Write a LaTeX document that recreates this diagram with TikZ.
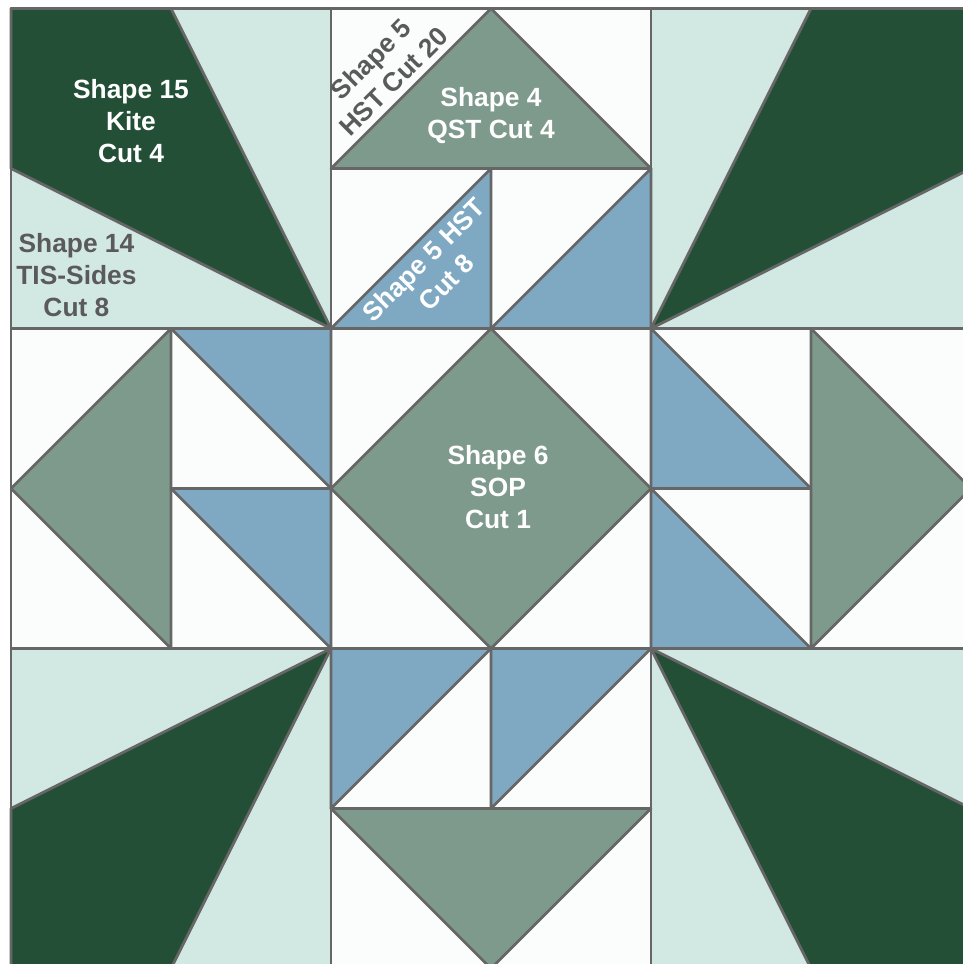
\documentclass[tikz,border=0pt]{standalone}
\usepackage{fontspec}
\setmainfont{Liberation Sans}
\definecolor{darkgrn}{HTML}{234F37}
\definecolor{lightgrn}{HTML}{D2E9E3}
\definecolor{sage}{HTML}{7E9A8C}
\definecolor{bluepc}{HTML}{7FA9C3}
\definecolor{whitepc}{HTML}{FBFDFC}
\definecolor{seam}{HTML}{666666}
\definecolor{inkgrey}{HTML}{5A5A5A}
\tikzset{
  seamline/.style ={draw=seam, line width=0.055cm, line join=round},
  bg/.style       ={seamline, fill=whitepc},
  tis/.style      ={seamline, fill=lightgrn},
  kite/.style     ={seamline, fill=darkgrn},
  qst/.style      ={seamline, fill=sage},
  hst/.style      ={seamline, fill=bluepc},
  lblw/.style     ={font=\fontsize{15}{18.2}\selectfont\bfseries, text=white, align=center, inner sep=0pt},
  lblg/.style     ={font=\fontsize{15}{18.2}\selectfont\bfseries, text=inkgrey, align=center, inner sep=0pt},
}

\begin{document}
\begin{tikzpicture}[x=3.2cm, y=-3.2cm]
  \useasboundingbox (-0.06875,-0.053125) rectangle (5.95,5.971875);
  \clip (-0.06875,-0.053125) rectangle (5.95,5.971875);
  % white background squares
  \foreach \c in {0,...,5}
    \foreach \r in {0,...,5}
      \draw[bg] (\c,\r) rectangle ++(1,1);
  % corner blocks
  \foreach \c/\r in {0/0,4/0,0/4,4/4}
    \draw[tis] (\c,\r) rectangle ++(2,2);
  \draw[kite] (0,0) -- (1,0) -- (2,2) -- (0,1) -- cycle;
  \draw[kite] (6,0) -- (5,0) -- (4,2) -- (6,1) -- cycle;
  \draw[kite] (0,6) -- (1,6) -- (2,4) -- (0,5) -- cycle;
  \draw[kite] (6,6) -- (5,6) -- (4,4) -- (6,5) -- cycle;
  % centre square and the four flying geese
  \draw[bg] (2,0) rectangle (4,1);
  \draw[bg] (2,2) rectangle (4,4);
  \draw[bg] (2,5) rectangle (4,6);
  \draw[bg] (0,2) rectangle (1,4);
  \draw[bg] (5,2) rectangle (6,4);
  \draw[qst] (3,2) -- (4,3) -- (3,4) -- (2,3) -- cycle;
  \draw[qst] (2,1) -- (3,0) -- (4,1) -- cycle;
  \draw[qst] (2,5) -- (4,5) -- (3,6) -- cycle;
  \draw[qst] (1,2) -- (0,3) -- (1,4) -- cycle;
  \draw[qst] (5,2) -- (6,3) -- (5,4) -- cycle;
  % half square triangles
  \draw[hst] (2,2) -- (3,1) -- (3,2) -- cycle;
  \draw[hst] (3,2) -- (4,1) -- (4,2) -- cycle;
  \draw[hst] (1,2) -- (2,2) -- (2,3) -- cycle;
  \draw[hst] (1,3) -- (2,3) -- (2,4) -- cycle;
  \draw[hst] (4,2) -- (4,3) -- (5,3) -- cycle;
  \draw[hst] (4,3) -- (4,4) -- (5,4) -- cycle;
  \draw[hst] (2,4) -- (3,4) -- (2,5) -- cycle;
  \draw[hst] (3,4) -- (4,4) -- (3,5) -- cycle;
  % labels
  \node[lblw] (kitelbl) at (0.75,0.703) {Shape 15\\Kite\\Cut 4};
  \node[lblg] (tislbl) at (0.409,1.666) {Shape 14\\TIS-Sides\\Cut 8};
  \node[lblw] (qstlbl) at (3,0.666) {Shape 4\\QST Cut 4};
  \node[lblw] (soplbl) at (3.044,2.991) {Shape 6\\SOP\\Cut 1};
  \node[lblg, rotate=45] (hstlblA) at (2.32,0.385) {Shape 5\\HST Cut 20};
  \node[lblw, rotate=45] (hstlblB) at (2.65,1.64) {Shape 5 HST\\Cut 8};
\end{tikzpicture}
\end{document}
